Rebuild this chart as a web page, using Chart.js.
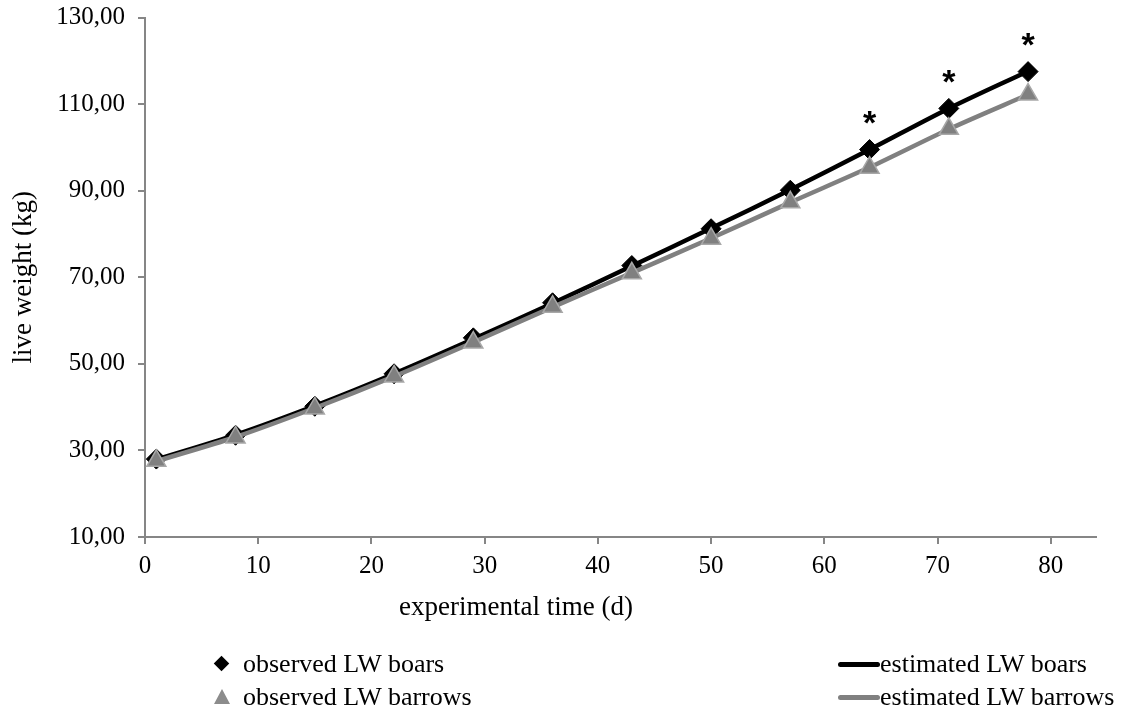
<!DOCTYPE html>
<html lang="en">
<head>
    <meta charset="UTF-8">
    <title>Live weight boars vs barrows</title>
    <script src="https://cdn.jsdelivr.net/npm/chart.js"></script>
    <style>
        body { margin: 0; font-family: "Liberation Serif", serif; background: #fff; }
        #wrap { position: relative; width: 1124px; height: 713px; overflow: hidden; }
        .item { position: absolute; white-space: nowrap; font-size: 26px; line-height: 32px; height: 32px; color: #000; }
        .mark { position: absolute; }
        .diamond { width: 11px; height: 11px; background: #000; transform: rotate(45deg); }
        .tri { width: 0; height: 0; border-left: 8px solid transparent; border-right: 8px solid transparent; border-bottom: 15px solid #8c8c8c; }
        .ln { width: 42px; height: 5px; border-radius: 3px; }
        #xtitle { position: absolute; left: 399px; top: 590px; font-size: 27px; line-height: 32px; white-space: nowrap; }
    </style>
</head>
<body>
<div id="wrap">
    <canvas id="lwChart" width="1124" height="713"></canvas>
    <div id="xtitle">experimental time (d)</div>
    <div class="mark diamond" style="left:216px; top:658px;"></div>
    <div class="item" style="left:243px; top:648px;">observed LW boars</div>
    <div class="mark ln" style="left:838px; top:662px; background:#000;"></div>
    <div class="item" style="left:880px; top:648px;">estimated LW boars</div>
    <div class="mark tri" style="left:214px; top:689px;"></div>
    <div class="item" style="left:243px; top:681px;">observed LW barrows</div>
    <div class="mark ln" style="left:838px; top:695px; background:#808080;"></div>
    <div class="item" style="left:880px; top:681px;">estimated LW barrows</div>
</div>

<script>
    // experimental days
    const days = [1, 8, 15, 22, 29, 36, 43, 50, 57, 64, 71, 78];
    const obsBoars   = [28.0, 33.5, 40.2, 47.7, 56.0, 64.1, 72.7, 81.2, 90.1, 99.5, 109.0, 117.5];
    const obsBarrows = [27.6, 33.0, 39.7, 47.1, 54.9, 63.2, 70.9, 78.9, 87.3, 95.3, 104.3, 112.2];
    const estBoars   = [27.9, 33.6, 40.3, 47.7, 55.7, 64.0, 72.6, 81.3, 90.2, 99.5, 109.0, 117.6];
    const estBarrows = [27.5, 33.1, 39.8, 47.1, 55.0, 63.1, 71.0, 79.0, 87.3, 95.4, 104.2, 112.2];
    const starDays = [64, 71, 78];   // significant difference
    const xTicks = [0, 10, 20, 30, 40, 50, 60, 70, 80];
    const yTicks = [10, 30, 50, 70, 90, 110, 130];

    const pts = (xs, ys) => xs.map((x, i) => ({ x: x, y: ys[i] }));
    const axisGrey = '#868686';
    const tickFont = { family: 'Liberation Serif', size: 25 };
    const titleFont = { family: 'Liberation Serif', size: 27 };

    const starPlugin = {
        id: 'stars',
        afterDatasetsDraw(chart) {
            const meta = chart.getDatasetMeta(1);
            const ctx = chart.ctx;
            ctx.save();
            ctx.fillStyle = '#000';
            ctx.font = 'bold 34px "Liberation Sans"';
            ctx.textAlign = 'center';
            ctx.textBaseline = 'middle';
            meta.data.forEach((p, i) => {
                if (starDays.includes(days[i])) ctx.fillText('*', p.x, p.y - 25);
            });
            ctx.restore();
        }
    };

    new Chart(document.getElementById('lwChart'), {
        type: 'scatter',
        data: {
            datasets: [
                {
                    label: 'estimated LW boars', data: pts(days, estBoars), showLine: true,
                    borderColor: '#000', borderWidth: 4.5, pointRadius: 0, tension: 0.3, order: 4
                },
                {
                    label: 'observed LW boars', data: pts(days, obsBoars),
                    pointStyle: 'rectRot', pointRadius: 10, backgroundColor: '#000', borderColor: '#000', borderWidth: 1, order: 3
                },
                {
                    label: 'estimated LW barrows', data: pts(days, estBarrows), showLine: true,
                    borderColor: '#808080', borderWidth: 4.5, pointRadius: 0, tension: 0.3, order: 2
                },
                {
                    label: 'observed LW barrows', data: pts(days, obsBarrows),
                    pointStyle: 'triangle', pointRadius: 11, backgroundColor: '#808080', borderColor: '#a8a8a8', borderWidth: 1.5, order: 1
                }
            ]
        },
        options: {
            responsive: false,
            animation: false,
            layout: { padding: { left: 0, right: 28, top: 1, bottom: 80 } },
            plugins: { legend: { display: false }, tooltip: { enabled: false } },
            scales: {
                x: {
                    type: 'linear', min: 0, max: 84,
                    afterBuildTicks: s => { s.ticks = xTicks.map(v => ({ value: v })); },
                    afterFit: s => { s.height = 96; },
                    border: { color: axisGrey, width: 2 },
                    grid: { drawOnChartArea: false, drawTicks: true, tickLength: 7, color: axisGrey, lineWidth: 2 },
                    ticks: { color: '#000', font: tickFont, padding: 7, maxRotation: 0 },
                    title: { display: false }
                },
                y: {
                    min: 10, max: 130,
                    afterBuildTicks: s => { s.ticks = yTicks.map(v => ({ value: v })); },
                    afterFit: s => { s.width = 145; s.paddingTop = 17.5; },
                    border: { color: axisGrey, width: 2 },
                    grid: { drawOnChartArea: false, drawTicks: true, tickLength: 7, color: axisGrey, lineWidth: 2 },
                    ticks: { color: '#000', font: tickFont, padding: 13, callback: v => v.toFixed(2).replace('.', ',') },
                    title: { display: true, text: 'live weight (kg)', color: '#000', font: titleFont, padding: { top: 8, bottom: 0 } }
                }
            }
        },
        plugins: [starPlugin]
    });
</script>
</body>
</html>
